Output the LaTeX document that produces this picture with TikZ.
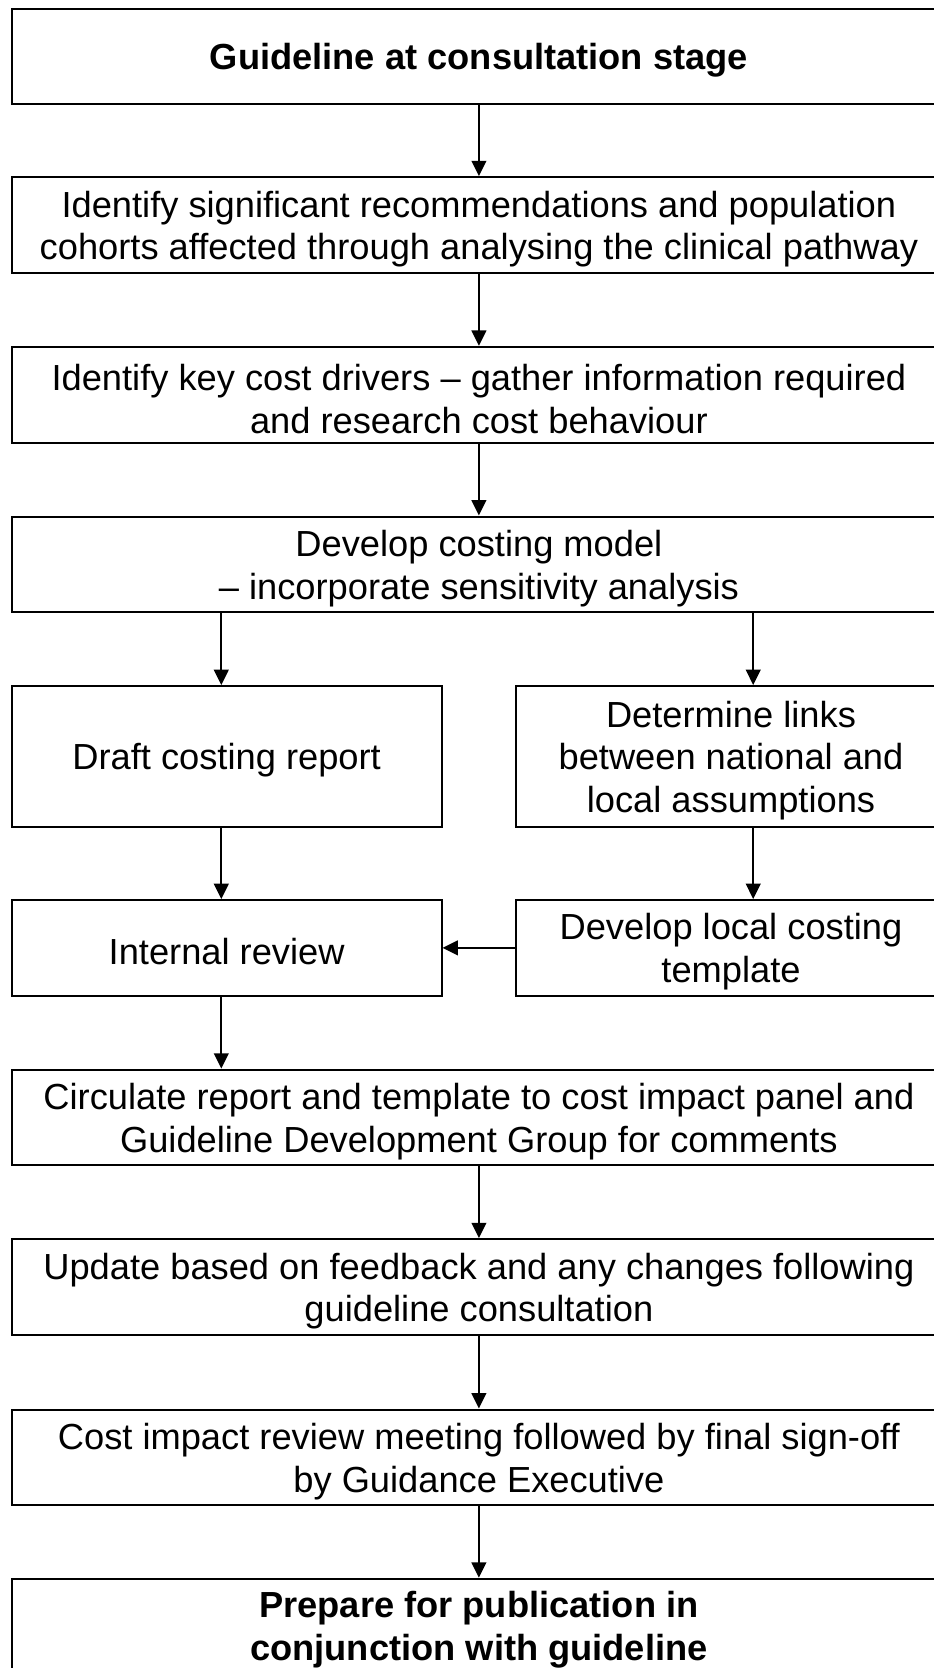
\documentclass[tikz,border=0pt]{standalone}
\usepackage{fontspec}
\setmainfont{Liberation Sans}
\usetikzlibrary{arrows.meta}

\begin{document}
\begin{tikzpicture}[x=0.75pt,y=-0.75pt,
  box/.style={draw=black, line width=1.5pt, fill=white, inner sep=0pt},
  lbl/.style={align=center, inner sep=0pt, yshift=-3pt,
    font=\fontsize{27.2pt}{32pt}\selectfont},
  blbl/.style={lbl, font=\fontsize{27.2pt}{32pt}\selectfont\bfseries},
  wide/.style={box, minimum width=934.3*0.75pt, minimum height=95.8*0.75pt},
  half/.style={box, minimum width=429.8*0.75pt},
  arr/.style={draw=black, line width=1.5pt, -{Triangle[length=11.5pt,width=11pt]}}]
\useasboundingbox (0,0) rectangle (934,1668);
\clip (0,0) rectangle (934,1668);

% main column
\node[wide, label={[blbl]center:Guideline at consultation stage}] (b1) at (478.9,56.4) {};
\node[wide, label={[lbl]center:{Identify significant recommendations and population\\cohorts affected through analysing the clinical pathway}}] (b2) at (478.9,225.0) {};
\node[wide, label={[lbl]center:{Identify key cost drivers -- gather information required\\and research cost behaviour}}] (b3) at (478.9,394.7) {};
\node[wide, label={[lbl]center:{Develop costing model\\-- incorporate sensitivity analysis}}] (b4) at (478.9,564.4) {};

% two side-by-side branches
\node[half, minimum height=140.6*0.75pt, label={[lbl]center:Draft costing report}] (b5l) at (226.6,756.3) {};
\node[half, minimum height=140.6*0.75pt, label={[lbl]center:{Determine links\\between national and\\local assumptions}}] (b5r) at (731.0,756.3) {};
\node[half, minimum height=95.8*0.75pt, label={[lbl]center:Internal review}] (b6l) at (226.6,947.9) {};
\node[half, minimum height=95.8*0.75pt, label={[lbl]center:{Develop local costing\\template}}] (b6r) at (731.0,947.9) {};

% main column continued
\node[wide, label={[lbl]center:{Circulate report and template to cost impact panel and\\Guideline Development Group for comments}}] (b7) at (478.9,1117.5) {};
\node[wide, label={[lbl]center:{Update based on feedback and any changes following\\guideline consultation}}] (b8) at (478.9,1287.0) {};
\node[wide, label={[lbl]center:{Cost impact review meeting followed by final sign-off\\by Guidance Executive}}] (b9) at (478.9,1457.4) {};
\node[wide, minimum height=94.6*0.75pt, label={[blbl]center:{Prepare for publication in\\conjunction with guideline}}] (b10) at (478.9,1626.0) {};

% branch arrow positions
\coordinate (lx) at (221.3,0);
\coordinate (rx) at (753.2,0);

% connectors
\draw[arr] (b1) -- (b2);
\draw[arr] (b2) -- (b3);
\draw[arr] (b3) -- (b4);
\draw[arr] (b4.south -| lx) -- (b5l.north -| lx);
\draw[arr] (b4.south -| rx) -- (b5r.north -| rx);
\draw[arr] (b5l.south -| lx) -- (b6l.north -| lx);
\draw[arr] (b5r.south -| rx) -- (b6r.north -| rx);
\draw[arr] (b6r.west) -- (b6l.east);
\draw[arr] (b6l.south -| lx) -- (b7.north -| lx);
\draw[arr] (b7) -- (b8);
\draw[arr] (b8) -- (b9);
\draw[arr] (b9) -- (b10);
\end{tikzpicture}
\end{document}
